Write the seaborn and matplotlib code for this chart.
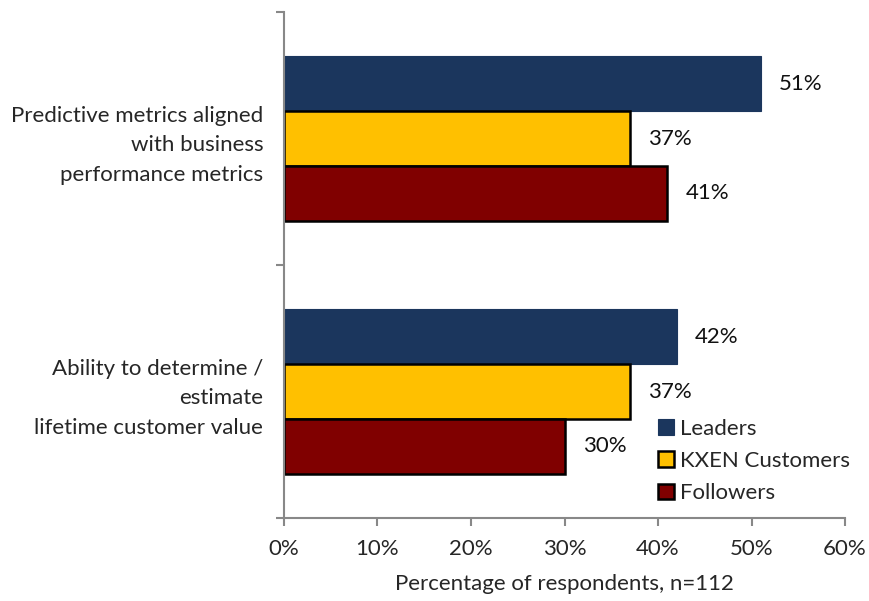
import numpy as np
import pandas as pd
import matplotlib
matplotlib.use("Agg")
import matplotlib.pyplot as plt
import seaborn as sns

# data
categories = ["Predictive metrics aligned\nwith business\nperformance metrics",
              "Ability to determine /\nestimate\nlifetime customer value"]
series = ["Leaders", "KXEN Customers", "Followers"]
leaders = [51, 42]
kxen = [37, 37]
followers = [41, 30]
xticks = [0, 10, 20, 30, 40, 50, 60]

colors = ["#1B365D", "#FFC000", "#800000"]
edges = ["#1B365D", "black", "black"]

df = pd.DataFrame({
    "category": categories * 3,
    "series": np.repeat(series, len(categories)),
    "value": leaders + kxen + followers,
})

sns.set_style("white")
plt.rcParams['font.family'] = ['Lato', 'DejaVu Sans']

fig = plt.figure(figsize=(8.69, 6.01), dpi=100)
ax = fig.add_axes([0.3268, 0.1381, 0.9724 - 0.3268, 0.980 - 0.1381])

sns.barplot(data=df, y="category", x="value", hue="series", orient="h",
            palette=colors, width=0.652, dodge=True, legend=False, ax=ax,
            saturation=1)

for cont, ec in zip(ax.containers, edges):
    for p in cont:
        p.set_edgecolor(ec)
        p.set_linewidth(1.8 if ec == "black" else 0.8)
    ax.bar_label(cont, labels=[f"{v:.0f}%" for v in cont.datavalues],
                 padding=13, fontsize=16, color="#111111")

ax.set_xlim(0, 60)
ax.set_ylim(1.5, -0.5)
ax.set_xticks(xticks)
ax.set_xticklabels([f"{t}%" for t in xticks], fontsize=16)
ax.set_yticks(range(len(categories)))
ax.set_yticklabels(categories, fontsize=16, ha="right", multialignment="right",
                   linespacing=1.6)
ax.set_yticks([-0.5, 0.5, 1.5], minor=True)
ax.tick_params(axis="y", which="major", length=0, pad=15)
ax.tick_params(axis="y", which="minor", length=6, width=1.5, color="#888888", left=True)
ax.tick_params(axis="x", length=6, width=1.5, color="#888888", bottom=True, pad=9)
ax.set_xlabel("Percentage of respondents, n=112", fontsize=16, labelpad=11)
ax.set_ylabel("")

for s in ["top", "right"]:
    ax.spines[s].set_visible(False)
for s in ["left", "bottom"]:
    ax.spines[s].set_color("#888888")
    ax.spines[s].set_linewidth(1.5)

ax.legend(ax.containers, series, loc="lower right", bbox_to_anchor=(1.045, -0.01),
          frameon=False, fontsize=16, handlelength=0.7, handleheight=0.7,
          handletextpad=0.3, labelspacing=0.55)

fig.savefig("out.png", dpi=100)
